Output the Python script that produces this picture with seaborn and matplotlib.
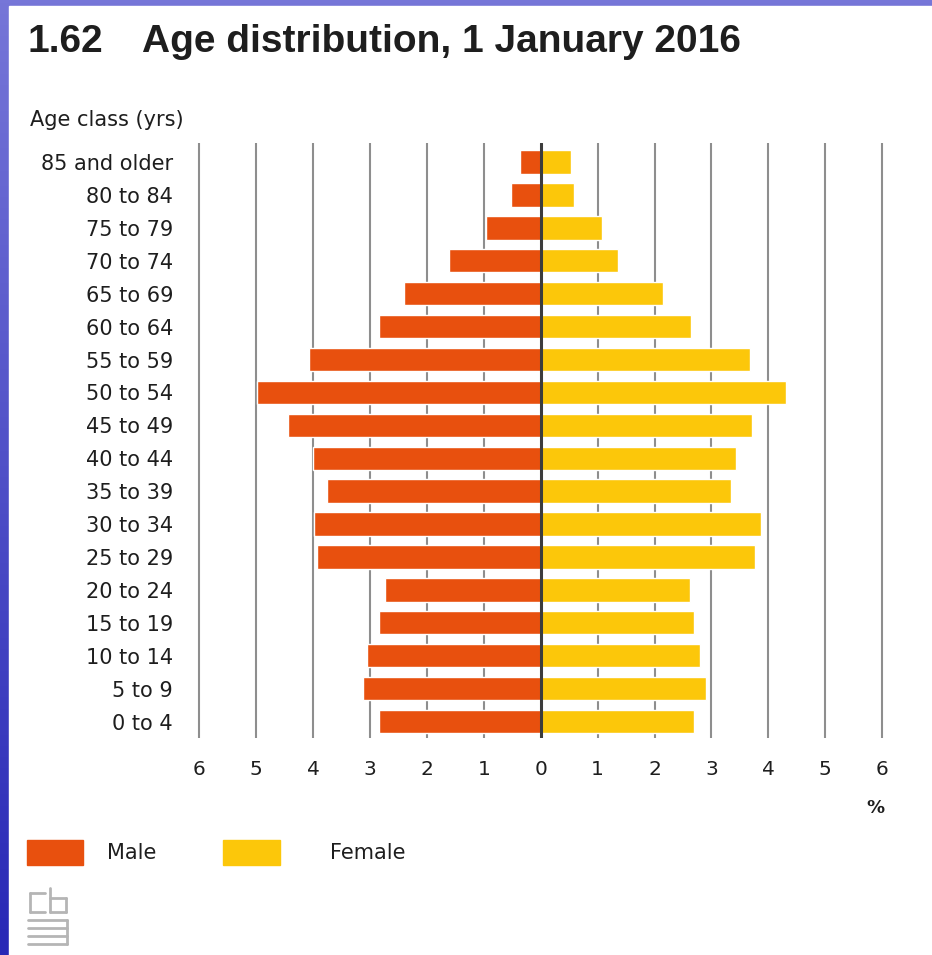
import numpy as np
import pandas as pd
import matplotlib
matplotlib.use('Agg')
import matplotlib.pyplot as plt
from matplotlib.patches import Rectangle
from matplotlib.lines import Line2D
from matplotlib.colors import LinearSegmentedColormap
import seaborn as sns

# data (% of population)
age_classes = ['85 and older', '80 to 84', '75 to 79', '70 to 74', '65 to 69',
               '60 to 64', '55 to 59', '50 to 54', '45 to 49', '40 to 44',
               '35 to 39', '30 to 34', '25 to 29', '20 to 24', '15 to 19',
               '10 to 14', '5 to 9', '0 to 4']
male = [0.36, 0.53, 0.96, 1.61, 2.41, 2.84, 4.07, 4.99, 4.45, 4.00,
        3.76, 3.98, 3.94, 2.74, 2.84, 3.05, 3.12, 2.84]
female = [0.54, 0.59, 1.07, 1.35, 2.15, 2.64, 3.67, 4.31, 3.72, 3.44,
          3.34, 3.87, 3.77, 2.63, 2.69, 2.80, 2.90, 2.69]
x_ticks = list(range(-6, 7))

male_color = '#e8500e'
female_color = '#fcc70a'
text_color = '#1e1e1e'

sns.set_theme(style='white')
plt.rcParams['font.family'] = ['DejaVu Sans']

df = pd.concat([
    pd.DataFrame({'age': age_classes, 'value': [-v for v in male], 'sex': 'Male'}),
    pd.DataFrame({'age': age_classes, 'value': female, 'sex': 'Female'}),
], ignore_index=True)

W, H = 932, 955
fig = plt.figure(figsize=(W / 100, H / 100), dpi=100)

# blue slide background with white panel
bg = fig.add_axes([0, 0, 1, 1], zorder=-10)
grad = np.linspace(0, 1, 256).reshape(-1, 1)
cmap = LinearSegmentedColormap.from_list('bg', ['#7676d8', '#2828b6'])
bg.imshow(grad, aspect='auto', cmap=cmap, extent=[0, 1, 0, 1])
bg.add_patch(Rectangle((9 / W, 0), 1, (H - 6) / H, transform=bg.transAxes,
                       color='white'))
bg.set_xlim(0, 1)
bg.set_ylim(0, 1)
bg.axis('off')

ax = fig.add_axes([185.1 / W, (H - 738) / H, 711.25 / W, 594.7 / H])
ax.set_facecolor('none')

sns.barplot(data=df, y='age', x='value', hue='sex', order=age_classes,
            hue_order=['Male', 'Female'],
            palette={'Male': male_color, 'Female': female_color},
            dodge=False, width=0.71, saturation=1, orient='h',
            legend=False, ax=ax, zorder=2)

for v in x_ticks:
    if v != 0:
        ax.axvline(v, color='#8e8e8e', lw=1.5, zorder=0)
ax.axvline(0, color='#3c3c3c', lw=2.2, zorder=5)

ax.set_xlim(-6.25, 6.25)
ax.set_ylim(17.5, -0.57)
ax.set_xticks(x_ticks)
ax.set_xticklabels([str(abs(v)) for v in x_ticks])
ax.tick_params(axis='x', length=0, pad=16, labelsize=14.5, labelcolor=text_color)
ax.tick_params(axis='y', length=0, pad=8.7, labelsize=15, labelcolor=text_color)
ax.set_xlabel('')
ax.set_ylabel('')
sns.despine(ax=ax, left=True, bottom=True)
ax.grid(False)

# titles
fig.text(27 / W, 1 - 52 / H, '1.62', fontsize=28, fontweight='bold',
         family=['Liberation Sans', 'DejaVu Sans'], color=text_color,
         va='baseline', ha='left')
fig.text(142 / W, 1 - 52 / H, 'Age distribution, 1 January 2016', fontsize=28,
         fontweight='bold', family=['Liberation Sans', 'DejaVu Sans'],
         color=text_color, va='baseline', ha='left')
fig.text(30 / W, 1 - 120 / H, 'Age class (yrs)', fontsize=15, color=text_color,
         va='center', ha='left')
fig.text(875 / W, 1 - 808 / H, '%', fontsize=13, fontweight='bold',
         color=text_color, va='center', ha='center')

# legend
fig.add_artist(Rectangle((27 / W, 1 - 865 / H), 56 / W, 25 / H,
                         transform=fig.transFigure, color=male_color))
fig.text(107 / W, 1 - 853 / H, 'Male', fontsize=15, color=text_color,
         va='center', ha='left')
fig.add_artist(Rectangle((223 / W, 1 - 865 / H), 57 / W, 25 / H,
                         transform=fig.transFigure, color=female_color))
fig.text(330 / W, 1 - 853 / H, 'Female', fontsize=15, color=text_color,
         va='center', ha='left')

# small grey logo mark
logo = '#b5b5b5'
for x0, y0, x1, y1 in [(30, 893, 30, 912), (30, 893, 45, 893), (30, 912, 45, 912),
                       (50, 888, 50, 912), (50, 898, 66, 898), (66, 898, 66, 912),
                       (50, 912, 66, 912), (28, 920, 67, 920), (28, 928, 67, 928),
                       (28, 936, 67, 936), (28, 944, 67, 944), (67, 920, 67, 944)]:
    fig.add_artist(Line2D([x0 / W, x1 / W], [1 - y0 / H, 1 - y1 / H],
                          transform=fig.transFigure, color=logo, lw=2))

fig.savefig('out.png', dpi=100)
